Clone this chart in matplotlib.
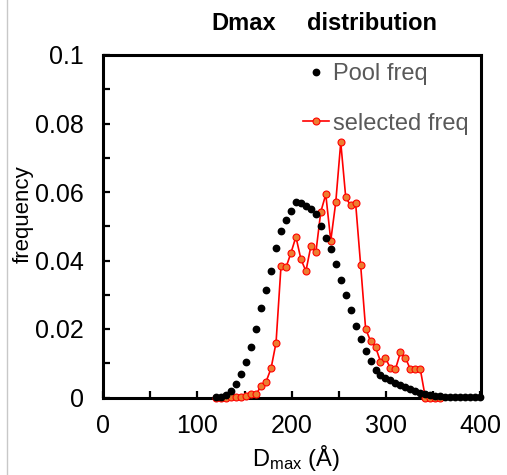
import matplotlib
matplotlib.use("Agg")
import matplotlib.pyplot as plt
from matplotlib.lines import Line2D
from matplotlib.ticker import MultipleLocator

plt.rcParams['font.family'] = ['Liberation Sans', 'DejaVu Sans']
plt.rcParams['mathtext.fontset'] = 'custom'
plt.rcParams['mathtext.rm'] = 'Liberation Sans'

# D_max bin centres (Å)
dmax = [120.0, 125.3, 130.6, 135.8, 141.1, 146.4, 151.7, 157.0, 162.3, 167.5,
        172.8, 178.1, 183.4, 188.7, 194.0, 199.2, 204.5, 209.8, 215.1, 220.4,
        225.7, 230.9, 236.2, 241.5, 246.8, 252.1, 257.4, 262.6, 267.9, 273.2,
        278.5, 283.8, 289.1, 294.3, 299.6, 304.9, 310.2, 315.5, 320.8, 326.0,
        331.3, 336.6, 341.9, 347.2, 352.5, 357.7, 363.0, 368.3, 373.6, 378.9,
        384.2, 389.4, 394.7, 400.0]

pool_freq = [0.0001, 0.0002, 0.0008, 0.0019, 0.0039, 0.0069, 0.0103, 0.0148, 0.0201, 0.0261,
             0.0315, 0.0370, 0.0437, 0.0486, 0.0517, 0.0545, 0.0571, 0.0569, 0.0559, 0.0549,
             0.0535, 0.0501, 0.0467, 0.0435, 0.0390, 0.0342, 0.0299, 0.0255, 0.0210, 0.0170,
             0.0136, 0.0107, 0.0080, 0.0066, 0.0057, 0.0050, 0.0042, 0.0036, 0.0032, 0.0025,
             0.0019, 0.0014, 0.0010, 0.0007, 0.0004, 0.0004, 0.0002, 0.0002, 0.0001, 0.0001,
             0.0001, 0.0001, 0.0001, 0.0001]

selected_freq = [0.0, 0.0, 0.0, 0.0002, 0.0002, 0.0002, 0.0004, 0.0009, 0.0009, 0.0034,
                 0.0046, 0.0085, 0.0160, 0.0385, 0.0380, 0.0422, 0.0469, 0.0404, 0.0369, 0.0442,
                 0.0424, 0.0542, 0.0593, 0.0458, 0.0570, 0.0745, 0.0584, 0.0561, 0.0567, 0.0387,
                 0.0201, 0.0164, 0.0147, 0.0105, 0.0115, 0.0085, 0.0083, 0.0132, 0.0116, 0.0082,
                 0.0082, 0.0082, 0.0, 0.0, 0.0, 0.0]

xticks = [0, 100, 200, 300, 400]
yticks = [0, 0.02, 0.04, 0.06, 0.08, 0.1]
ytick_labels = ['0', '0.02', '0.04', '0.06', '0.08', '0.1']

W, H = 507, 475
fig = plt.figure(figsize=(W / 100, H / 100), dpi=100)
ax = fig.add_axes([103.3 / W, 1 - 397.5 / H, (481 - 103.3) / W, (397.5 - 55) / H])

sel_x = dmax[:len(selected_freq)]
ax.plot(sel_x, selected_freq, color='#FF0000', lw=1.2, marker='o', ms=5,
        mfc='#ED7D31', mec='#FF0000', mew=0.8, zorder=3, clip_on=False)
ax.plot(dmax, pool_freq, linestyle='none', marker='o', ms=4.6, color='black',
        zorder=4, clip_on=False)

ax.set_xlim(0, 401)
ax.set_ylim(0, 0.1)
ax.set_xticks(xticks)
ax.set_xticklabels([str(t) for t in xticks])
ax.xaxis.set_minor_locator(MultipleLocator(50))
ax.set_yticks(yticks)
ax.set_yticklabels(ytick_labels)
ax.yaxis.set_minor_locator(MultipleLocator(0.01))
ax.tick_params(which='both', direction='in', length=5, width=1.6, labelsize=18,
               colors='black')
ax.tick_params(axis='x', pad=12)
ax.tick_params(axis='y', pad=14)
for s in ax.spines.values():
    s.set_linewidth(2.2)
    s.set_color('black')

fig.text(23 / W, 1 - 214 / H, 'frequency', rotation=90, ha='center', va='center',
         fontsize=16, color='black')
fig.text(296 / W, 1 - 458 / H, r'$\mathregular{D_{max}}$ (Å)', ha='center', va='center',
         fontsize=17, color='black')

fig.text(211 / W, 1 - 23 / H, 'Dmax', ha='left', va='center', fontsize=17,
         fontweight='bold')
fig.text(307 / W, 1 - 23 / H, 'distribution', ha='left', va='center', fontsize=17,
         fontweight='bold')

handles = [
    Line2D([], [], linestyle='none', marker='o', ms=4.6, color='black'),
    Line2D([], [], color='#FF0000', lw=1.2, marker='o', ms=5, mfc='#ED7D31',
           mec='#FF0000', mew=0.8),
]
leg = fig.legend(handles, ['Pool freq', 'selected freq'], loc='upper left',
                 bbox_to_anchor=(303 / W, 1 - 63 / H), frameon=False, fontsize=17,
                 handlelength=1.1, handletextpad=0.15, labelspacing=1.17,
                 borderpad=0, borderaxespad=0)
for t in leg.get_texts():
    t.set_color('#595959')

fig.add_artist(Line2D([7 / W, 7 / W], [0, 1], color='#C8C8C8', lw=1.0))

fig.savefig('out.png', dpi=100)
